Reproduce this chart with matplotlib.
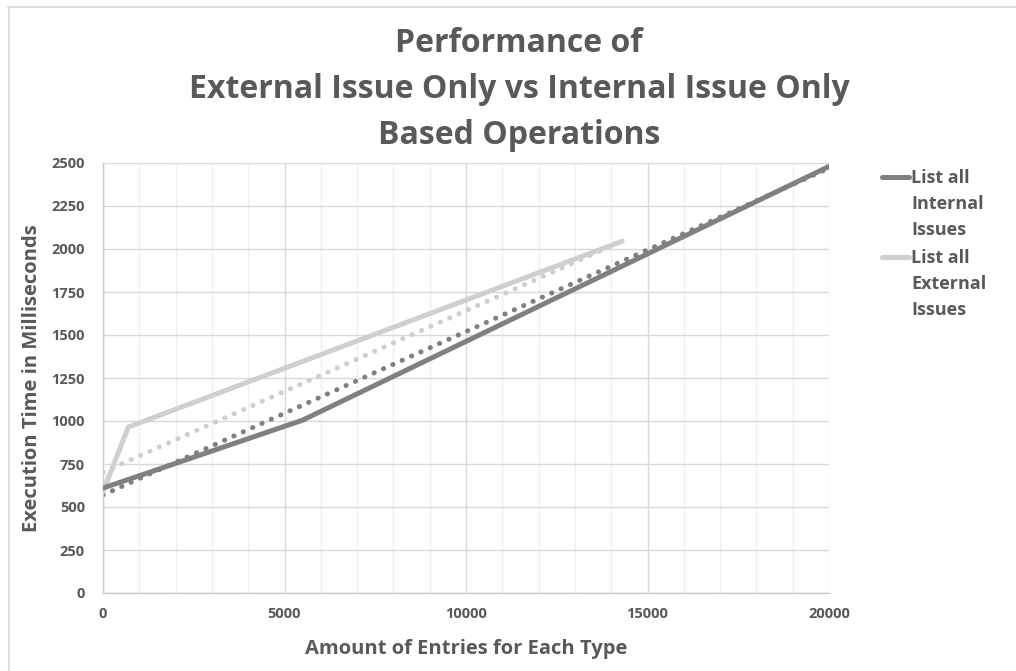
import matplotlib
matplotlib.use("Agg")
import matplotlib.pyplot as plt
from matplotlib.lines import Line2D

plt.rcParams['font.family'] = ['Open Sans', 'DejaVu Sans']

# ---- data ----
internal_x = [0, 5500, 20000]
internal_y = [610, 1005, 2480]
external_x = [0, 700, 14300]
external_y = [590, 965, 2045]
# linear trendlines
internal_trend_x = [0, 20000]
internal_trend_y = [570, 2470]
external_trend_x = [0, 14300]
external_trend_y = [703, 2045]

title_lines = ["Performance of",
               "External Issue Only vs Internal Issue Only",
               "Based Operations"]
x_label = "Amount of Entries for Each Type"
y_label = "Execution Time in Milliseconds"
legend_labels = ["List all\nInternal\nIssues", "List all\nExternal\nIssues"]
x_ticks = [0, 5000, 10000, 15000, 20000]
y_ticks = [0, 250, 500, 750, 1000, 1250, 1500, 1750, 2000, 2250, 2500]

c_int = "#808080"
c_ext = "#cfcfcf"
txt = "#595959"

W, H = 1016, 671
fig = plt.figure(figsize=(W / 100, H / 100), dpi=100)

# outer chart border
fig.add_artist(Line2D([8 / W, 1.0], [1 - 6.5 / H, 1 - 6.5 / H], color="#d9d9d9", lw=1.2))
fig.add_artist(Line2D([8.5 / W, 8.5 / W], [0, 1 - 6.5 / H], color="#d9d9d9", lw=1.2))

ax = fig.add_axes([103 / W, (H - 593) / H, 726 / W, 430 / H])
ax.set_xlim(0, 20000)
ax.set_ylim(0, 2500)
ax.set_xticks(x_ticks)
ax.set_yticks(y_ticks)
ax.set_xticks(range(0, 20001, 1000), minor=True)
ax.grid(which="major", color="#d9d9d9", lw=1.0)
ax.grid(which="minor", axis="x", color="#efefef", lw=1.0)
ax.set_axisbelow(True)
for s in ["top", "right"]:
    ax.spines[s].set_visible(False)
for s in ["left", "bottom"]:
    ax.spines[s].set_color("#cccccc")
    ax.spines[s].set_linewidth(1.0)
ax.tick_params(which="both", length=0)
ax.tick_params(axis="x", pad=10)
ax.tick_params(axis="y", pad=13)
for lab in ax.get_xticklabels() + ax.get_yticklabels():
    lab.set_fontweight("bold")
    lab.set_fontsize(10.5)
    lab.set_color(txt)

lw = 3.6
dot = (0, (0.05, 2.0))
ax.plot(external_trend_x, external_trend_y, color=c_ext, lw=lw, linestyle=dot,
        dash_capstyle="round", zorder=2)
ax.plot(internal_trend_x, internal_trend_y, color=c_int, lw=lw, linestyle=dot,
        dash_capstyle="round", zorder=2)
ax.plot(external_x, external_y, color=c_ext, lw=lw, solid_capstyle="round",
        solid_joinstyle="round", zorder=3)
ax.plot(internal_x, internal_y, color=c_int, lw=lw, solid_capstyle="round",
        solid_joinstyle="round", zorder=4)

ax.set_xlabel(x_label, fontsize=14.5, fontweight="bold", color=txt, labelpad=13)
ax.set_ylabel(y_label, fontsize=14.5, fontweight="bold", color=txt, labelpad=7)

# title
for line, yc in zip(title_lines, [43, 89, 136]):
    fig.text(519 / W, 1 - yc / H, line, ha="center", va="center",
             fontsize=23, fontweight="bold", color=txt)

# legend (manual, Excel-like wrapped)
for lab, col, yl in zip(legend_labels, [c_int, c_ext], [177, 257]):
    fig.add_artist(Line2D([882 / W, 909 / W], [1 - yl / H, 1 - yl / H],
                          color=col, lw=lw, solid_capstyle="round"))
    fig.text(911 / W, 1 - (yl - 8) / H, lab, ha="left", va="top",
             fontsize=13, fontweight="bold", color=txt, linespacing=1.58)

fig.savefig("out.png", dpi=100)
